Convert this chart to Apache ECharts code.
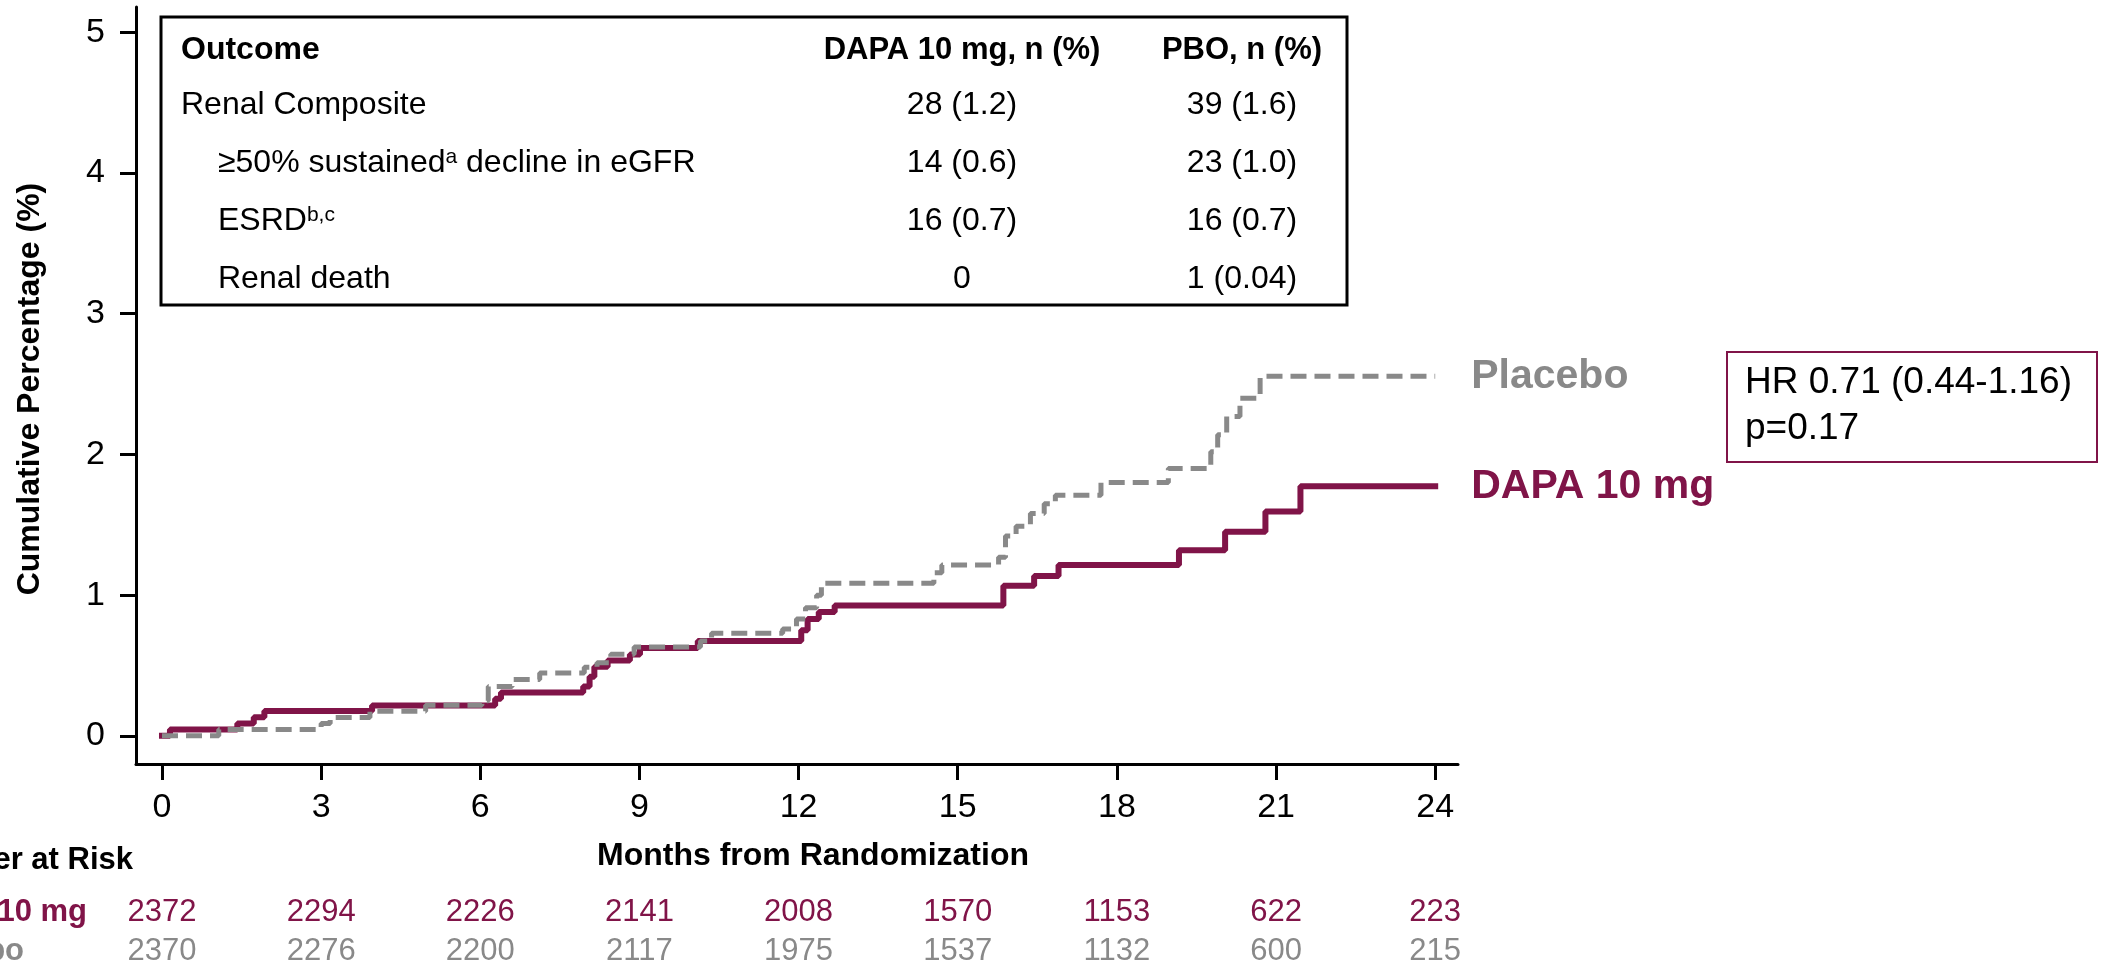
<!DOCTYPE html>
<html><head><meta charset="utf-8">
<script src="https://cdn.jsdelivr.net/npm/echarts@6/dist/echarts.min.js"></script>
<style>html,body{margin:0;padding:0;background:#fff}#c{width:2101px;height:965px}</style>
</head><body><div id="c"></div>
<script>
const FONT = '"Liberation Sans", Arial, Helvetica, sans-serif';
const MAROON = '#801448';
const GRAY = '#898989';

// Kaplan-Meier step points (months, cumulative %)
const dapaTimes  = [0, 0.15, 1.42, 1.73, 1.93, 3.96, 6.28, 6.39, 7.94, 8.06, 8.15, 8.4, 8.82, 9.01, 10.1, 12.05, 12.17, 12.38, 12.68, 15.86, 16.44, 16.9, 19.17, 20.04, 20.8, 21.46, 24];
const dapaValues = [0, 0.045, 0.088, 0.132, 0.177, 0.216, 0.264, 0.308, 0.35, 0.42, 0.492, 0.535, 0.578, 0.625, 0.674, 0.75, 0.83, 0.88, 0.926, 1.066, 1.137, 1.215, 1.32, 1.45, 1.595, 1.774, 1.774];
const pboTimes   = [0, 1.07, 3.0, 3.17, 3.92, 4.97, 6.03, 6.15, 6.6, 7.12, 7.96, 8.2, 8.46, 8.9, 10.15, 10.36, 11.7, 11.96, 12.13, 12.34, 12.43, 14.55, 14.7, 15.77, 15.9, 16.1, 16.37, 16.63, 16.84, 17.7, 18.97, 19.77, 19.9, 20.07, 20.32, 20.7, 24];
const pboValues  = [0, 0.045, 0.087, 0.13, 0.175, 0.217, 0.25, 0.35, 0.40, 0.446, 0.488, 0.52, 0.58, 0.632, 0.674, 0.73, 0.76, 0.83, 0.91, 1.0, 1.085, 1.16, 1.215, 1.27, 1.42, 1.49, 1.58, 1.65, 1.71, 1.80, 1.90, 2.02, 2.14, 2.27, 2.40, 2.555, 2.555];

const xTicks = [0, 3, 6, 9, 12, 15, 18, 21, 24];
const yTicks = [0, 1, 2, 3, 4, 5];

const riskDapa = [2372, 2294, 2226, 2141, 2008, 1570, 1153, 622, 223];
const riskPbo  = [2370, 2276, 2200, 2117, 1975, 1537, 1132, 600, 215];

const tableHeader = ['Outcome', 'DAPA 10 mg, n (%)', 'PBO, n (%)'];
const tableOutcomes = ['Renal Composite', '≥50% sustained{sup|a} decline in eGFR', 'ESRD{sup|b,c}', 'Renal death'];
const tableIndent = [false, true, true, true];
const tableDapa = ['28 (1.2)', '14 (0.6)', '16 (0.7)', '0'];
const tablePbo  = ['39 (1.6)', '23 (1.0)', '16 (0.7)', '1 (0.04)'];

const hrText = ['HR 0.71 (0.44-1.16)', 'p=0.17'];

const chart = echarts.init(document.getElementById('c'), null, {renderer: 'canvas'});

const axisCommon = {
  type: 'value',
  splitLine: {show: false},
  axisLine: {show: true, onZero: false, lineStyle: {color: '#000', width: 3}},
};

chart.setOption({
  animation: false,
  backgroundColor: '#fff',
  grid: {left: 136, top: 7, width: 1322, height: 757, containLabel: false},
  xAxis: Object.assign({}, axisCommon, {
    min: -0.49, max: 24.43,
    axisTick: {show: true, customValues: xTicks, length: 16, lineStyle: {color: '#000', width: 3}},
    axisLabel: {customValues: xTicks, fontSize: 34, fontFamily: FONT, color: '#000', margin: 27}
  }),
  yAxis: Object.assign({}, axisCommon, {
    min: -0.2, max: 5.18,
    axisTick: {show: true, customValues: yTicks, length: 16, lineStyle: {color: '#000', width: 3}},
    axisLabel: {customValues: yTicks, fontSize: 34, fontFamily: FONT, color: '#000', margin: 31}
  }),
  series: [
    {
      name: 'DAPA 10 mg', type: 'line', step: 'end', symbol: 'none', silent: true,
      data: dapaTimes.map((t, i) => [t, dapaValues[i]]),
      lineStyle: {color: MAROON, width: 6, cap: 'square'},
      endLabel: {show: true, formatter: '{a}', color: MAROON, fontSize: 41, fontWeight: 'bold', fontFamily: FONT, distance: 36},
      z: 2
    },
    {
      name: 'Placebo', type: 'line', step: 'end', symbol: 'none', silent: true,
      data: pboTimes.map((t, i) => [t, pboValues[i]]),
      lineStyle: {color: GRAY, width: 5, type: [16, 8]},
      endLabel: {show: true, formatter: '{a}', color: GRAY, fontSize: 41, fontWeight: 'bold', fontFamily: FONT, distance: 36},
      z: 3
    }
  ]
});

function txt(x, y, text, opt) {
  return {
    type: 'text', x: x, y: y, silent: true, z: 10,
    style: Object.assign({
      text: text, fontSize: 32, fontFamily: FONT, fill: '#000',
      textAlign: 'left', textVerticalAlign: 'middle'
    }, opt || {})
  };
}

const els = [];
// axis titles
els.push(txt(813, 856, 'Months from Randomization', {fontWeight: 'bold', textAlign: 'center'}));
els.push(Object.assign(txt(30, 389, 'Cumulative Percentage (%)', {fontWeight: 'bold', textAlign: 'center'}), {rotation: Math.PI / 2}));

// outcome table
els.push({type: 'rect', silent: true, z: 9, shape: {x: 161, y: 17, width: 1186, height: 288},
  style: {fill: '#fff', stroke: '#000', lineWidth: 3}});
const colDapa = 962, colPbo = 1242;
const rowY = [50, 105, 163, 221, 279];
els.push(txt(181, rowY[0], tableHeader[0], {fontWeight: 'bold', fontSize: 32}));
els.push(txt(colDapa, rowY[0], tableHeader[1], {fontWeight: 'bold', fontSize: 31, textAlign: 'center'}));
els.push(txt(colPbo, rowY[0], tableHeader[2], {fontWeight: 'bold', fontSize: 31, textAlign: 'center'}));
tableOutcomes.forEach((o, i) => {
  const y = rowY[i + 1];
  els.push(txt(tableIndent[i] ? 218 : 181, y, o, {
    rich: {sup: {fontSize: 21, fontFamily: FONT, verticalAlign: 'top', lineHeight: 21}}
  }));
  els.push(txt(colDapa, y, tableDapa[i], {textAlign: 'center'}));
  els.push(txt(colPbo, y, tablePbo[i], {textAlign: 'center'}));
});

// HR box
els.push({type: 'rect', silent: true, z: 9, shape: {x: 1727, y: 352, width: 370, height: 110},
  style: {fill: '#fff', stroke: MAROON, lineWidth: 2}});
els.push(txt(1745, 383, hrText[0], {fontSize: 37}));
els.push(txt(1745, 429, hrText[1], {fontSize: 37}));

// number at risk
els.push(txt(133, 860, 'Number at Risk', {fontWeight: 'bold', fontSize: 31, textAlign: 'right'}));
els.push(txt(87, 912, 'DAPA 10 mg', {fontWeight: 'bold', fontSize: 31, textAlign: 'right', fill: MAROON}));
els.push(txt(24, 951, 'Placebo', {fontWeight: 'bold', fontSize: 31, textAlign: 'right', fill: GRAY}));
xTicks.forEach((t, i) => {
  const px = chart.convertToPixel({xAxisIndex: 0}, t);
  els.push(txt(px, 912, String(riskDapa[i]), {fontSize: 31, textAlign: 'center', fill: MAROON}));
  els.push(txt(px, 951, String(riskPbo[i]), {fontSize: 31, textAlign: 'center', fill: GRAY}));
});

chart.setOption({graphic: {elements: els}});
</script>
</body></html>
